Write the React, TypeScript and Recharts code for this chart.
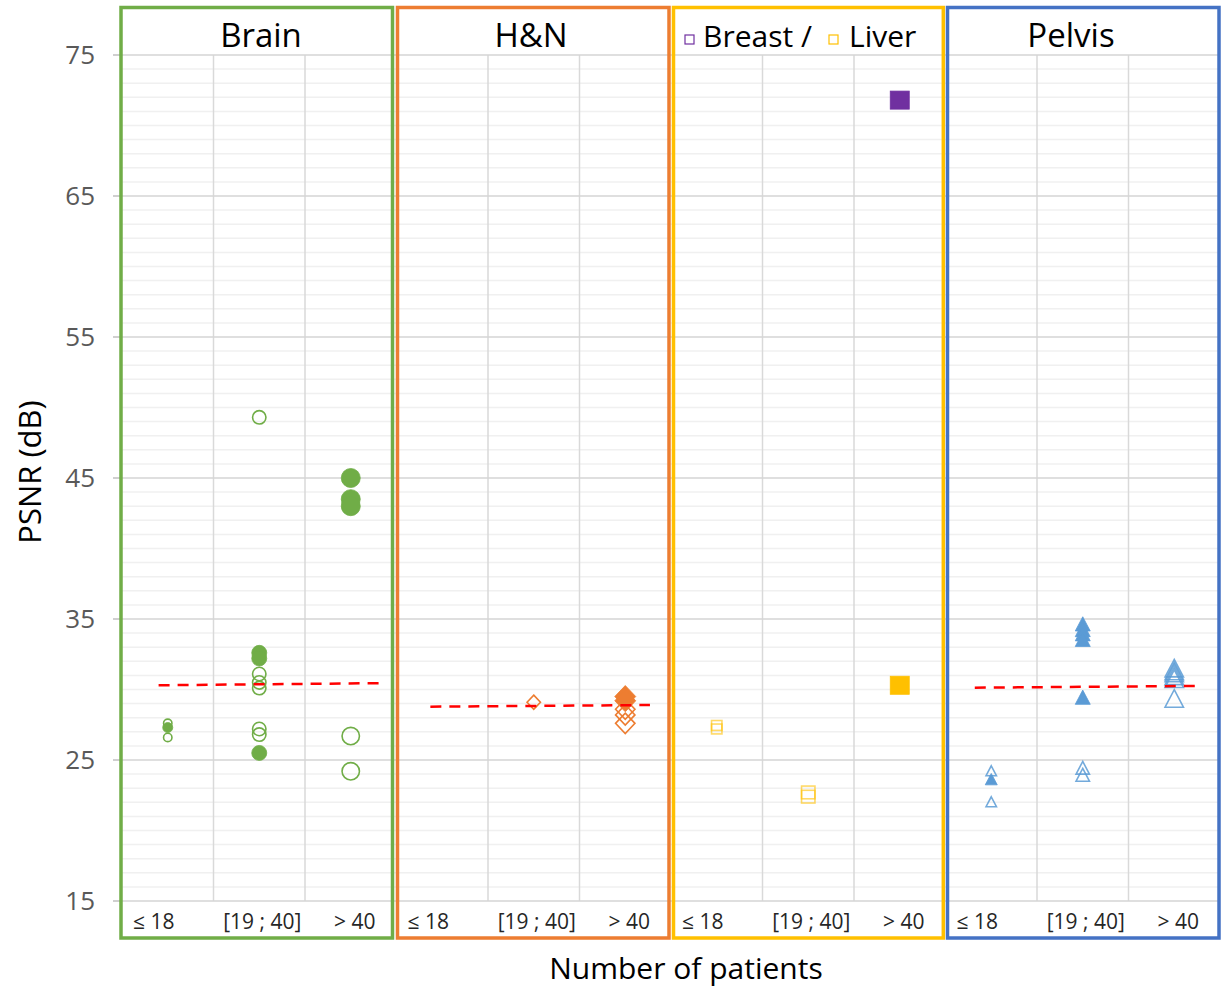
import React from 'react';
import { ScatterChart, Scatter, XAxis, YAxis, CartesianGrid } from 'recharts';

// ---------- data ----------
const categories = ['≤ 18', '[19 ; 40]', '> 40'];
const panelTitles = ['Brain', 'H&N', 'Breast / Liver', 'Pelvis'];
const yMajorTicks = [15, 25, 35, 45, 55, 65, 75];
const yMinorTicks = [
  16, 17, 18, 19, 20, 21, 22, 23, 24, 26, 27, 28, 29, 30, 31, 32, 33, 34,
  36, 37, 38, 39, 40, 41, 42, 43, 44, 46, 47, 48, 49, 50, 51, 52, 53, 54,
  56, 57, 58, 59, 60, 61, 62, 63, 64, 66, 67, 68, 69, 70, 71, 72, 73, 74,
];

// PSNR values by category [≤18, [19;40], >40]
const brainFilled = [[27.3], [32.6, 32.2, 25.5], [45.0, 43.5, 43.0]];
const brainOpen = [[27.6, 26.6], [49.3, 31.1, 30.5, 30.1, 27.2, 26.8], [26.7, 24.2]];
const hnFilled = [[], [], [29.5, 29.2]];
const hnOpen = [[], [29.1], [28.6, 28.2, 27.6]];
const breastFilled = [[], [], [71.8]];
const liverFilled = [[], [], [30.3]];
const liverOpen = [[27.45, 27.2], [22.7, 22.4], []];
const pelvisFilled = [[23.6], [34.6, 34.2, 33.9, 33.5, 29.4], []];
const pelvisOpen = [[24.2, 22.0], [24.4, 23.9], [31.45, 31.25, 31.1, 30.9, 30.7, 29.3]];

// trend lines: [x start, y start, x end, y end] in category units within panel
const brainTrend = [0.4, 30.3, 2.81, 30.45];
const hnTrend = [0.37, 28.78, 2.77, 28.9];
const pelvisTrend = [0.32, 30.13, 2.73, 30.25];

// ---------- styles ----------
const FONT = '"Open Sans", "Noto Sans", sans-serif';
const GREEN = '#70AD47';
const ORANGE = '#ED7D31';
const YELLOW = '#FFC000';
const PURPLE = '#7030A0';
const BLUE = '#5B9BD5';
const BLUE_BORDER = '#4472C4';

const markSizes: Record<string, number[]> = {
  circle: [10, 15, 19],
  diamond: [14, 15, 21],
  square: [12, 15, 19],
  triangle: [12, 15, 20],
};

const W = 1222;
const H = 990;
const PANELS = 4;
const CATS = categories.length;
const X_MAX = PANELS * CATS;

const toPoints = (values: number[][], panel: number) =>
  values.flatMap((vals, c) => vals.map((v) => ({ x: panel * CATS + c + 0.5, y: v, c })));

const toTrend = (t: number[], panel: number) => [
  { x: panel * CATS + t[0], y: t[1] },
  { x: panel * CATS + t[2], y: t[3] },
];

const xTicks = Array.from({ length: X_MAX }, (_, i) => i + 0.5);
const xGridTicks = Array.from({ length: X_MAX - 1 }, (_, i) => i + 1).filter((v) => v % CATS !== 0);

const xScaleOf = (args: any) => {
  const s = args?.xAxis?.scale;
  if (typeof s === 'function') return (v: number) => s(v);
  const o = args.offset;
  return (v: number) => o.left + (v / X_MAX) * o.width;
};
const yScaleOf = (args: any) => {
  const s = args?.yAxis?.scale;
  if (typeof s === 'function') return (v: number) => s(v);
  const o = args.offset;
  return (v: number) => o.top + ((75 - v) / 60) * o.height;
};

type MarkProps = {
  cx?: number;
  cy?: number;
  payload?: any;
  kind: string;
  filled: boolean;
  color: string;
  opacity?: number;
};

const Mark = ({ cx = 0, cy = 0, payload, kind, filled, color, opacity = 1 }: MarkProps) => {
  const s = markSizes[kind][payload?.c ?? 0];
  const sw = filled ? 0.8 : 1.6;
  const fill = filled ? color : 'none';
  const common = { fill, stroke: color, strokeWidth: sw, strokeOpacity: opacity };
  const h = s / 2 - (filled ? 0 : sw / 2);
  if (kind === 'circle') return <circle cx={cx} cy={cy} r={h} {...common} />;
  if (kind === 'square')
    return <rect x={cx - h} y={cy - h * 0.95} width={2 * h} height={2 * h * 0.95} {...common} />;
  if (kind === 'diamond')
    return (
      <polygon
        points={`${cx},${cy - h * 1.05} ${cx + h},${cy} ${cx},${cy + h * 1.05} ${cx - h},${cy}`}
        {...common}
      />
    );
  return (
    <polygon
      points={`${cx},${cy - h * 1.05} ${cx + h},${cy + h * 0.85} ${cx - h},${cy + h * 0.85}`}
      {...common}
    />
  );
};

const tickShift = [-14, 3, 4];

const XTick = (props: any) => {
  const { x, y, payload } = props;
  const c = Math.floor(payload.value) % CATS;
  return (
    <text x={x + tickShift[c]} y={y + 28} textAnchor="middle" fontFamily={FONT} fontSize={21} fill="#262626">
      {categories[c]}
    </text>
  );
};

const series = [
  { data: toPoints(brainOpen, 0), kind: 'circle', filled: false, color: GREEN },
  { data: toPoints(brainFilled, 0), kind: 'circle', filled: true, color: GREEN },
  { data: toPoints(hnOpen, 1), kind: 'diamond', filled: false, color: ORANGE },
  { data: toPoints(hnFilled, 1), kind: 'diamond', filled: true, color: ORANGE },
  { data: toPoints(liverOpen, 2), kind: 'square', filled: false, color: YELLOW, opacity: 0.6 },
  { data: toPoints(liverFilled, 2), kind: 'square', filled: true, color: YELLOW },
  { data: toPoints(breastFilled, 2), kind: 'square', filled: true, color: PURPLE },
  { data: toPoints(pelvisOpen, 3), kind: 'triangle', filled: false, color: BLUE, opacity: 0.85 },
  { data: toPoints(pelvisFilled, 3), kind: 'triangle', filled: true, color: BLUE },
];

const trends = [toTrend(brainTrend, 0), toTrend(hnTrend, 1), toTrend(pelvisTrend, 3)];

const borders = [
  { x1: 121, x2: 392.5, color: GREEN },
  { x1: 397.5, x2: 669, color: ORANGE },
  { x1: 673.5, x2: 943.3, color: YELLOW },
  { x1: 947.5, x2: 1219, color: BLUE_BORDER },
];

export default function App() {
  return (
    <div style={{ position: 'absolute', left: 0, top: 0, width: W, height: H, background: '#fff' }}>
      <ScatterChart width={W} height={H} margin={{ top: 55, right: 2, bottom: 49, left: 0 }}>
        <CartesianGrid
          vertical={false}
          stroke="#f0f0f0"
          strokeWidth={1.5}
          horizontalCoordinatesGenerator={(args: any) => {
            const sc = yScaleOf(args);
            return yMinorTicks.map((v) => sc(v));
          }}
        />
        <CartesianGrid
          horizontal={false}
          stroke="#d9d9d9"
          strokeWidth={1.5}
          verticalCoordinatesGenerator={(args: any) => {
            const sc = xScaleOf(args);
            return xGridTicks.map((v) => sc(v));
          }}
        />
        <CartesianGrid
          vertical={false}
          stroke="#d4d4d4"
          strokeWidth={1.5}
          horizontalCoordinatesGenerator={(args: any) => {
            const sc = yScaleOf(args);
            return yMajorTicks.map((v) => sc(v));
          }}
        />
        <XAxis
          type="number"
          dataKey="x"
          domain={[0, X_MAX]}
          ticks={xTicks}
          interval={0}
          height={40}
          axisLine={false}
          tickLine={false}
          tickSize={0}
          tickMargin={0}
          tick={<XTick />}
        />
        <YAxis
          type="number"
          dataKey="y"
          domain={[15, 75]}
          ticks={yMajorTicks}
          interval={0}
          width={122}
          axisLine={false}
          tickLine={{ stroke: '#bfbfbf', strokeWidth: 1.5 }}
          tickSize={9}
          tickMargin={18}
          tick={{ fontSize: 26, fill: '#595959', fontFamily: FONT }}
        />
        {series.map((s, i) => (
          <Scatter
            key={i}
            data={s.data}
            isAnimationActive={false}
            shape={(p: any) => (
              <Mark cx={p.cx} cy={p.cy} payload={p.payload} kind={s.kind} filled={s.filled} color={s.color} opacity={s.opacity} />
            )}
          />
        ))}
        {trends.map((t, i) => (
          <Scatter
            key={'t' + i}
            data={t}
            isAnimationActive={false}
            line={{ stroke: '#FF0000', strokeWidth: 2.5, strokeDasharray: '11 8' }}
            shape={() => <g />}
          />
        ))}
      </ScatterChart>
      <svg width={W} height={H} style={{ position: 'absolute', left: 0, top: 0, pointerEvents: 'none' }}>
        {borders.map((b, i) => (
          <rect
            key={i}
            x={b.x1}
            y={7.5}
            width={b.x2 - b.x1}
            height={938 - 7.5}
            fill="none"
            stroke={b.color}
            strokeWidth={3.5}
          />
        ))}
        <text x={261} y={47} textAnchor="middle" fontFamily={FONT} fontSize={33} fill="#000">
          {panelTitles[0]}
        </text>
        <text x={531} y={47} textAnchor="middle" fontFamily={FONT} fontSize={33} fill="#000">
          {panelTitles[1]}
        </text>
        <rect x={685} y={35} width={9} height={9} fill="none" stroke={PURPLE} strokeWidth={1.2} />
        <text x={703} y={47} fontFamily={FONT} fontSize={30} fill="#000">
          Breast /
        </text>
        <rect x={829} y={35} width={9} height={9} fill="none" stroke={YELLOW} strokeWidth={1.2} />
        <text x={849} y={47} fontFamily={FONT} fontSize={30} fill="#000">
          Liver
        </text>
        <text x={1071} y={47} textAnchor="middle" fontFamily={FONT} fontSize={33} fill="#000">
          {panelTitles[3]}
        </text>
        <text x={686} y={979} textAnchor="middle" fontFamily={FONT} fontSize={30} fill="#000">
          Number of patients
        </text>
        <text
          x={41}
          y={472}
          textAnchor="middle"
          fontFamily={FONT}
          fontSize={31}
          fill="#000"
          transform="rotate(-90 41 472)"
        >
          PSNR (dB)
        </text>
      </svg>
    </div>
  );
}
